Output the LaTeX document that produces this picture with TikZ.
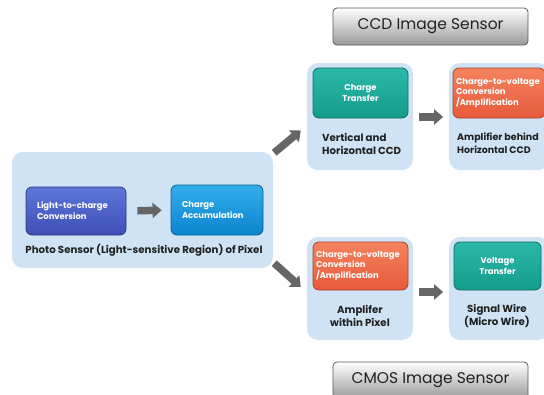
\documentclass[tikz,border=0pt]{standalone}
\usepackage{fontspec}
\setmainfont{Poppins}
\usetikzlibrary{arrows.meta,calc,shadings}
\definecolor{panel}{HTML}{D0E3F4}
\definecolor{arrowgray}{HTML}{666666}
\definecolor{blueTop}{HTML}{5D76D8}
\definecolor{blueBot}{HTML}{3E4FB5}
\definecolor{blueLine}{HTML}{2C3A86}
\definecolor{cyanTop}{HTML}{33ADEA}
\definecolor{cyanBot}{HTML}{0B84CF}
\definecolor{cyanLine}{HTML}{0A5E9A}
\definecolor{tealTop}{HTML}{2BB8A8}
\definecolor{tealBot}{HTML}{149C8B}
\definecolor{tealLine}{HTML}{0E6E62}
\definecolor{orTop}{HTML}{F4835F}
\definecolor{orBot}{HTML}{E65A3B}
\definecolor{orLine}{HTML}{A9432A}
\definecolor{titleBot}{HTML}{9A9A9A}
\definecolor{titleLine}{HTML}{5A5A5A}
\definecolor{titleText}{HTML}{222222}
\definecolor{bodyText}{HTML}{202020}
\tikzset{
  panelbox/.style={fill=panel, draw=none, rounded corners=11pt},
  innerbox/.style={rounded corners=6pt, line width=0.8pt, text=white,
     font=\fontsize{8.4}{10.8}\selectfont\bfseries, inner sep=3pt},
  bluebox/.style={innerbox, top color=blueTop, bottom color=blueBot, draw=blueLine},
  cyanbox/.style={innerbox, top color=cyanTop, bottom color=cyanBot, draw=cyanLine},
  tealbox/.style={innerbox, top color=tealTop, bottom color=tealBot, draw=tealLine},
  orangebox/.style={innerbox, top color=orTop, bottom color=orBot, draw=orLine},
  titlebox/.style={rounded corners=4pt, top color=white, bottom color=titleBot,
     draw=titleLine, line width=0.8pt, font=\fontsize{15.5}{17}\selectfont, text=titleText,
     minimum width=195pt, minimum height=37pt},
  bodytext/.style={font=\fontsize{10.2}{13}\selectfont\bfseries, text=bodyText, inner sep=0pt},
  blockarrow/.style={draw=arrowgray, line width=7.5pt, -{Triangle[length=9pt,width=15pt]}, color=arrowgray},
}
\begin{document}
\begin{tikzpicture}[x=1pt,y=-1pt]
\useasboundingbox (0,0) rectangle (544,394);
\fill[white] (0,0) rectangle (544,394);
\begin{scope}
\clip (0,0) rectangle (544,394);
% panels
\node[panelbox, minimum width=261pt, minimum height=116pt] (pix) at (142.5,210) {};
\node[panelbox, minimum width=106pt, minimum height=107pt] (ccd1) at (360,116.5) {};
\node[panelbox, minimum width=100pt, minimum height=107pt] (ccd2) at (499,116.5) {};
\node[panelbox, minimum width=106pt, minimum height=103pt] (cmos1) at (360,288.5) {};
\node[panelbox, minimum width=100pt, minimum height=103pt] (cmos2) at (499,288.5) {};
% titles
\node[titlebox] (ccdt) at (430.5,26.5) {CCD Image Sensor};
\node[titlebox] (cmost) at (430.5,380.5) {CMOS Image Sensor};
% photo sensor boxes
\node[bluebox, minimum width=100pt, minimum height=48pt, text width=78pt, align=left] (b1) at (76,211) {Light-to-charge\\Conversion};
\node[cyanbox, minimum width=92pt, minimum height=50pt, text width=70pt, align=left] (b2) at (217,210) {Charge\\Accumulation};
\node[bodytext] (pixlab) at (144,250) {Photo Sensor (Light-sensitive Region) of Pixel};
% CCD
\node[tealbox, minimum width=95pt, minimum height=50pt, align=center] (c1) at (360.5,93) {Charge\\Transfer};
\node[bodytext, align=left, anchor=west] (c1lab) at (322,143.5) {Vertical and\\Horizontal CCD};
\node[orangebox, minimum width=90pt, minimum height=50pt, text width=86pt, align=left] (c2) at (499,93) {Charge-to-voltage\\Conversion\\/Amplification};
\node[bodytext, font=\fontsize{9.5}{13}\selectfont\bfseries, align=left, anchor=west] (c2lab) at (457,143.5) {Amplifier behind\\Horizontal CCD};
% CMOS
\node[orangebox, minimum width=95pt, minimum height=48pt, text width=89pt, align=left] (m1) at (360.5,266) {Charge-to-voltage\\Conversion\\/Amplification};
\node[bodytext, align=center] (m1lab) at (360,316) {Amplifer\\within Pixel};
\node[tealbox, minimum width=87pt, minimum height=48pt, align=center] (m2) at (497.5,266) {Voltage\\Transfer};
\node[bodytext, align=center] (m2lab) at (497,316) {Signal Wire\\(Micro Wire)};
% arrows
\draw[blockarrow, shorten <=11pt, shorten >=9pt] (b1.east) -- (b2.west);
\draw[blockarrow] ($(c1.east)+(11,24)$) -- ($(c2.west)+(-9.5,24)$);
\draw[blockarrow] ($(m1.east)+(11,26)$) -- ($(m2.west)+(-10.5,26)$);
\draw[blockarrow] ($(pix.north east)+(1,1)$) -- ($(ccd1.west)+(-6,14)$);
\draw[blockarrow] ($(pix.south east)+(1,-5)$) -- ($(cmos1.west)+(-6,-1.5)$);
\end{scope}
\end{tikzpicture}
\end{document}
